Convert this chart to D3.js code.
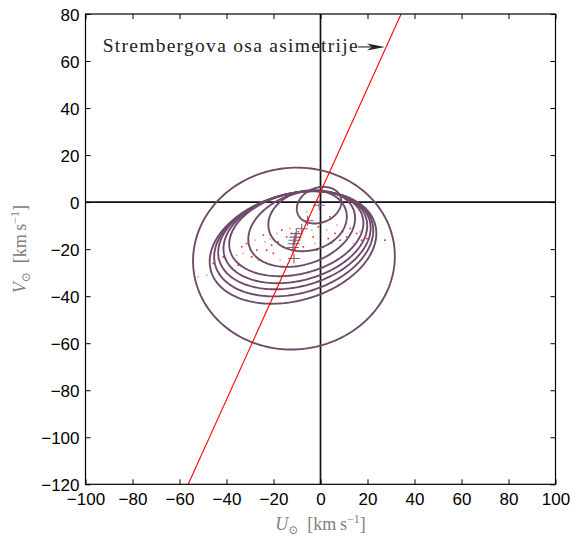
<!DOCTYPE html>
<html><head><meta charset="utf-8">
<script src="https://cdnjs.cloudflare.com/ajax/libs/d3/7.8.5/d3.min.js"></script>
<style>html,body{margin:0;padding:0;background:#fff;}svg{display:block;}</style>
</head><body>
<script>
// ---- data ----
const xTicks = [-100,-80,-60,-40,-20,0,20,40,60,80,100];
const yTicks = [-120,-100,-80,-60,-40,-20,0,20,40,60,80];
// velocity ellipses (center U,V ; semi-axes a,b ; tilt deg)
const ellCU = [-0.6, -5.5, -8.0, -10.3, -10.7, -11.1, -11.4, -11.7, -11.3];
const ellCV = [-1.3, -7.9, -11.3, -13.4, -14.9, -16.2, -17.7, -19.3, -24.0];
const ellA  = [9.8, 16.9, 23.5, 29.1, 31.2, 33.1, 34.6, 36.3, 43.0];
const ellB  = [7.4, 12.7, 15.1, 17.2, 18.6, 19.8, 21.2, 22.6, 38.6];
const ellAng = [22.5, 13.7, 19.4, 13.9, 14.2, 14.4, 15.2, 15.9, 7.1];
// asymmetry line
const lineU = [-56.3, 34.3];
const lineV = [-120, 80];
// stars (U,V), kind 1 = red, 0 = pink
const starU = [-52.0,-48.4,-45.6,-43.5,-41.4,-38.5,-37.8,-35.7,-35.0,-33.5,-32.9,-31.4,-30.0,-29.3,-27.9,-27.1,-26.5,-24.3,-23.6,-22.9,-21.5,-20.8,-20.1,-18.6,-18.0,-17.2,-16.5,-15.8,-14.4,-13.0,-12.3,-11.6,-10.9,-9.4,-8.7,-7.3,-5.9,-5.2,-3.7,-3.1,-2.3,-1.6,-0.9,0.5,1.2,2.6,3.3,4.0,4.8,6.2,6.9,8.3,9.7,11.1,12.6,14.0,15.4,16.8,17.5,19.7,23.2,27.4];
const starV = [-31.8,-31.1,-26.1,-24.0,-23.3,-20.4,-28.2,-22.6,-26.8,-19.0,-21.8,-17.6,-20.4,-23.3,-16.2,-20.4,-24.7,-14.0,-16.9,-20.4,-15.5,-18.3,-21.8,-13.3,-16.9,-24.7,-11.9,-19.0,-14.8,-11.2,-13.3,-17.6,-20.4,-12.6,-15.5,-19.0,-4.1,-7.7,-11.9,-14.8,-17.6,-20.4,-10.5,-4.8,-8.4,-11.9,-15.5,-6.3,-17.6,-13.3,-9.8,-16.2,-12.6,-14.8,-11.2,-17.6,-13.3,-12.6,-16.2,-15.5,-16.9,-16.2];
const starKind = [0,0,1,0,1,0,1,0,1,1,0,1,0,1,0,1,0,1,0,1,0,1,1,0,1,0,1,0,1,0,1,0,1,1,0,1,0,1,0,1,0,1,1,0,1,0,1,1,0,1,0,1,0,1,1,0,1,0,1,1,0,1];
const annText = "Strembergova osa asimetrije";
const annU = -92.7, annV = 64.0, arrowU0 = 16.0, arrowU1 = 27.4, arrowV = 66.0;

// ---- layout ----
const W = 570, H = 538;
const L = 85.5, R = 555.5, T = 14, B = 484.3;
const x = d3.scaleLinear().domain([-100,100]).range([L,R]);
const y = d3.scaleLinear().domain([-120,80]).range([B,T]);
const ellColor = "#6f4b6b";

const svg = d3.select("body").append("svg").attr("width",W).attr("height",H);

const clip = svg.append("clipPath").attr("id","clip").append("rect")
  .attr("x",L).attr("y",T).attr("width",R-L).attr("height",B-T);
const plot = svg.append("g").attr("clip-path","url(#clip)");

// zero lines
plot.append("line").attr("x1",x(0)).attr("x2",x(0)).attr("y1",T).attr("y2",B)
  .attr("stroke","#111").attr("stroke-width",1.7);
plot.append("line").attr("x1",L).attr("x2",R).attr("y1",y(0)).attr("y2",y(0))
  .attr("stroke","#111").attr("stroke-width",1.7);

// stars
plot.selectAll("rect.star").data(starU.map((u,i)=>({u,v:starV[i],k:starKind[i]})))
  .enter().append("rect").attr("class","star")
  .attr("x",d=>x(d.u)-0.8).attr("y",d=>y(d.v)-0.8).attr("width",1.6).attr("height",1.6)
  .attr("fill",d=>d.k? "#f02020" : "#f7a0a0");

// ellipses
const line = d3.line().x(p=>x(p[0])).y(p=>y(p[1]));
ellCU.forEach((cu,i)=>{
  const th = ellAng[i]*Math.PI/180, a = ellA[i], b = ellB[i], cv = ellCV[i];
  const pts = d3.range(0,361,2).map(deg=>{
    const t = deg*Math.PI/180;
    return [cu + a*Math.cos(t)*Math.cos(th) - b*Math.sin(t)*Math.sin(th),
            cv + a*Math.cos(t)*Math.sin(th) + b*Math.sin(t)*Math.cos(th)];
  });
  plot.append("path").attr("d",line(pts)).attr("fill","none")
    .attr("stroke",ellColor).attr("stroke-width",1.9);
});

// centre crosses
ellCU.forEach((cu,i)=>{
  const cx = x(cu), cy = y(ellCV[i]);
  plot.append("path").attr("d",`M${cx-6},${cy}H${cx+6}M${cx},${cy-5}V${cy+5}`)
    .attr("stroke","#7d6479").attr("stroke-width",1.1);
});

// asymmetry line
plot.append("path").attr("d",line(lineU.map((u,i)=>[u,lineV[i]])))
  .attr("stroke","#ff0000").attr("stroke-width",1.1).attr("fill","none");

// axes
const fontTick = "'Liberation Sans', Arial, sans-serif";
const fmt = d3.format("d");
const gx = svg.append("g").attr("transform",`translate(0,${B})`)
  .call(d3.axisBottom(x).tickValues(xTicks).tickFormat(fmt).tickSizeInner(-5).tickSizeOuter(0).tickPadding(9));
const gy = svg.append("g").attr("transform",`translate(${L},0)`)
  .call(d3.axisLeft(y).tickValues(yTicks).tickFormat(fmt).tickSizeInner(-5).tickSizeOuter(0).tickPadding(6));
const gxt = svg.append("g").attr("transform",`translate(0,${T})`)
  .call(d3.axisTop(x).tickValues(xTicks).tickFormat("").tickSizeInner(-5).tickSizeOuter(0));
const gyr = svg.append("g").attr("transform",`translate(${R},0)`)
  .call(d3.axisRight(y).tickValues(yTicks).tickFormat("").tickSizeInner(-5).tickSizeOuter(0));
[gx,gy,gxt,gyr].forEach(g=>{
  g.select(".domain").remove();
  g.selectAll(".tick line").attr("stroke","#000").attr("stroke-width",1);
  g.selectAll("text").attr("font-family",fontTick).attr("font-size",17).attr("fill","#000");
});
gy.selectAll("text").attr("dy","0.36em");

// frame
svg.append("rect").attr("x",L).attr("y",T).attr("width",R-L).attr("height",B-T)
  .attr("fill","none").attr("stroke","#000").attr("stroke-width",1.2);

// annotation
const serif = "'Liberation Serif', 'DejaVu Serif', serif";
svg.append("text").attr("x",x(annU)).attr("y",y(annV))
  .attr("font-family",serif).attr("font-size",19.5).attr("fill","#222")
  .attr("textLength",255).attr("lengthAdjust","spacing").text(annText);
const ax0 = x(arrowU0), ax1 = x(arrowU1), ay = y(arrowV);
svg.append("line").attr("x1",ax0).attr("x2",ax1-6).attr("y1",ay).attr("y2",ay)
  .attr("stroke","#222").attr("stroke-width",1.1);
svg.append("path").attr("d",`M${ax1},${ay}L${ax1-18},${ay-3.5}L${ax1-13},${ay}L${ax1-18},${ay+3.5}Z`)
  .attr("fill","#222");

// axis labels
function axisLabel(g, letter){
  const t = g.append("text").attr("font-family",serif).attr("font-size",18).attr("fill","#808080")
    .attr("text-anchor","middle");
  t.append("tspan").attr("font-style","italic").text(letter);
  t.append("tspan").attr("font-size",12).attr("dy",4).text("⊙");
  t.append("tspan").attr("dy",-4).text("\u2002[km\u2009s");
  t.append("tspan").attr("font-size",12).attr("dy",-7).text("−1");
  t.append("tspan").attr("dy",7).text("]");
  return t;
}
axisLabel(svg.append("g").attr("transform",`translate(${x(0)},530)`), "U");
axisLabel(svg.append("g").attr("transform",`translate(26,${(T+B)/2}) rotate(-90)`), "V");
</script>
</body></html>
